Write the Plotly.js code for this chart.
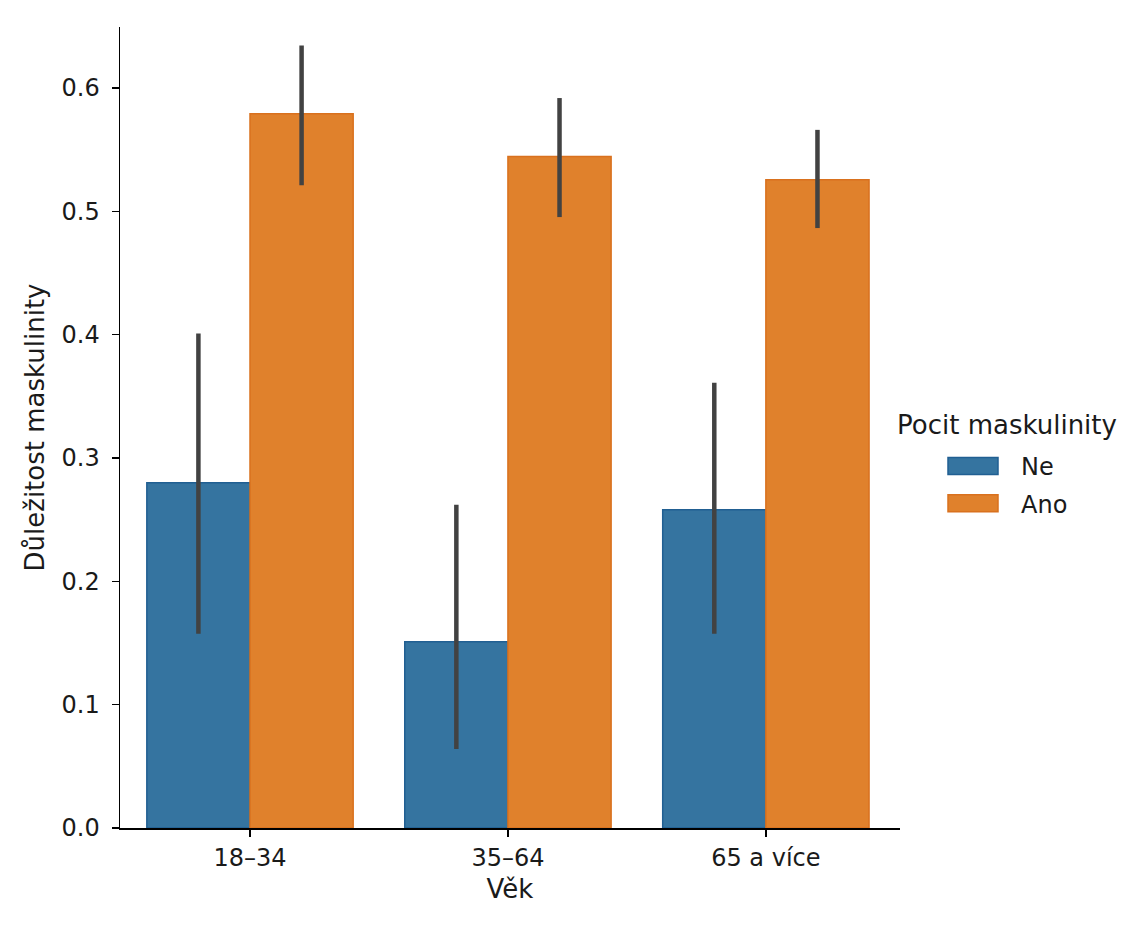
<!DOCTYPE html>
<html>
<head>
<meta charset="utf-8">
<script src="https://cdn.plot.ly/plotly-3.0.1.min.js"></script>
<style>html,body{margin:0;padding:0;background:#fff;}#chart{width:1134px;height:928px;}</style>
</head>
<body>
<div id="chart"></div>
<script>
const categories = ["18–34", "35–64", "65 a více"];
const seriesNames = ["Ne", "Ano"];
const legendTitle = "Pocit maskulinity";
const xTitle = "Věk";
const yTitle = "Důležitost maskulinity";
const neValues = [0.280, 0.151, 0.258];
const neLow = [0.1575, 0.064, 0.1575];
const neHigh = [0.401, 0.262, 0.361];
const anoValues = [0.579, 0.5445, 0.5256];
const anoLow = [0.521, 0.4953, 0.4864];
const anoHigh = [0.6345, 0.5918, 0.566];
const yTicks = [0.0, 0.1, 0.2, 0.3, 0.4, 0.5, 0.6];
const yTickLabels = ["0.0", "0.1", "0.2", "0.3", "0.4", "0.5", "0.6"];

const FONT = "DejaVu Sans, sans-serif";
const TXT = "#1a1a1a";

function makeTrace(name, vals, lo, hi, color, edge) {
  return {
    type: "bar",
    name: name,
    legendgroup: name,
    x: categories,
    y: vals,
    marker: {color: color, line: {color: edge, width: 1.5}},
    error_y: {
      type: "data",
      symmetric: false,
      array: hi.map((h, i) => h - vals[i]),
      arrayminus: lo.map((l, i) => vals[i] - l),
      color: "#424242",
      thickness: 4.5,
      width: 0
    }
  };
}

const data = [
  makeTrace(seriesNames[0], neValues, neLow, neHigh, "#3574a0", "#215f92"),
  makeTrace(seriesNames[1], anoValues, anoLow, anoHigh, "#e0812c", "#d9711e")
];

const axisCommon = {
  showline: true,
  linecolor: "#000",
  linewidth: 1.5,
  ticks: "outside",
  ticklen: 7,
  tickwidth: 1.5,
  tickcolor: "#000",
  showgrid: false,
  zeroline: false,
  automargin: false,
  tickfont: {family: FONT, size: 24, color: TXT}
};

const layout = {
  width: 1134,
  height: 928,
  paper_bgcolor: "#ffffff",
  plot_bgcolor: "#ffffff",
  margin: {l: 120, r: 234, t: 27, b: 100},
  barmode: "group",
  bargap: 0.2,
  bargroupgap: 0,
  font: {family: FONT, size: 24, color: TXT},
  xaxis: Object.assign({}, axisCommon, {
    type: "category",
    range: [-0.504, 2.52],
    ticklabelstandoff: 1,
    title: {text: xTitle, font: {family: FONT, size: 26, color: TXT}, standoff: 8}
  }),
  yaxis: Object.assign({}, axisCommon, {
    range: [0, 0.6494],
    tickvals: yTicks,
    ticktext: yTickLabels,
    ticklabelstandoff: 7,
    title: {text: yTitle, font: {family: FONT, size: 26, color: TXT}, standoff: 9}
  }),
  legend: {
    x: (925 - 120) / 780,
    xanchor: "left",
    y: (828 - 444) / 801,
    yanchor: "top",
    font: {family: FONT, size: 24, color: TXT},
    bgcolor: "rgba(0,0,0,0)",
    itemwidth: 86,
    tracegroupgap: 3
  },
  annotations: [{
    text: legendTitle,
    xref: "paper", yref: "paper",
    x: (1007 - 120) / 780,
    y: (828 - 425) / 801,
    xanchor: "center", yanchor: "middle",
    showarrow: false,
    font: {family: FONT, size: 26, color: TXT}
  }],
  showlegend: true
};

Plotly.newPlot("chart", data, layout, {displayModeBar: false, staticPlot: true}).then(function (gd) {
  gd.querySelectorAll(".legend .legendpoints path").forEach(function (p) {
    p.setAttribute("d", "M25,8.5H-25V-8.5H25Z");
  });
});
</script>
</body>
</html>
